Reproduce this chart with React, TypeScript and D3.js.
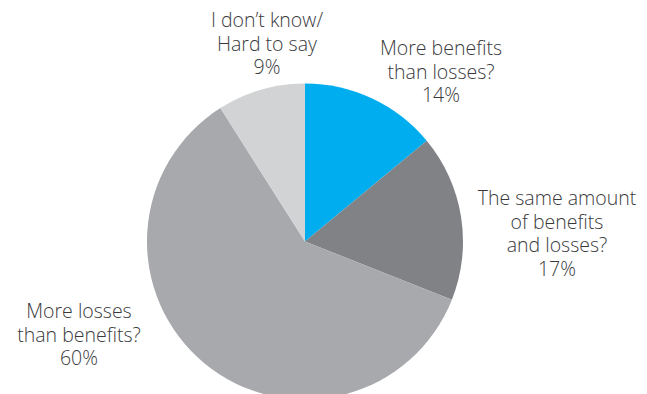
import React from "react";
import * as d3 from "d3";

const categories = [
  "More benefits than losses?",
  "The same amount of benefits and losses?",
  "More losses than benefits?",
  "I don't know/Hard to say",
];
const values = [14, 17, 60, 9];
const colors = ["#00AEEF", "#808285", "#A7A9AC", "#D1D3D4"];
const labelLines = [
  ["More benefits", "than losses?", "14%"],
  ["The same amount", "of benefits", "and losses?", "17%"],
  ["More losses", "than benefits?", "60%"],
  ["I don\u2019t know/", "Hard to say", "9%"],
];
const labelPos = [
  [441, 48],
  [557, 198],
  [79, 311],
  [267, 20],
];

export default function App() {
  const W = 647, H = 394;
  const cx = 305, cy = 241.5, r = 158;
  const pie = d3.pie<number>().sort(null).value((d) => d)(values);
  const arc = d3.arc<d3.PieArcDatum<number>>().innerRadius(0).outerRadius(r);
  const lh = 23.8;
  return (
    <svg width={W} height={H} style={{ position: "absolute", left: 0, top: 0, background: "#fff" }}>
      <g transform={`translate(${cx},${cy})`}>
        {pie.map((p, i) => (
          <path key={categories[i]} d={arc(p) || ""} fill={colors[i]} />
        ))}
      </g>
      {labelLines.map((lines, i) => (
        <text
          key={i}
          x={labelPos[i][0]}
          y={labelPos[i][1]}
          textAnchor="middle"
          fontFamily="'Open Sans', sans-serif"
          fontWeight={300}
          fontSize={19.5}
          fill="#3a3a3c"
        >
          {lines.map((l, j) => (
            <tspan key={j} x={labelPos[i][0]} dy={j === 0 ? "0.35em" : lh}>
              {l}
            </tspan>
          ))}
        </text>
      ))}
    </svg>
  );
}
